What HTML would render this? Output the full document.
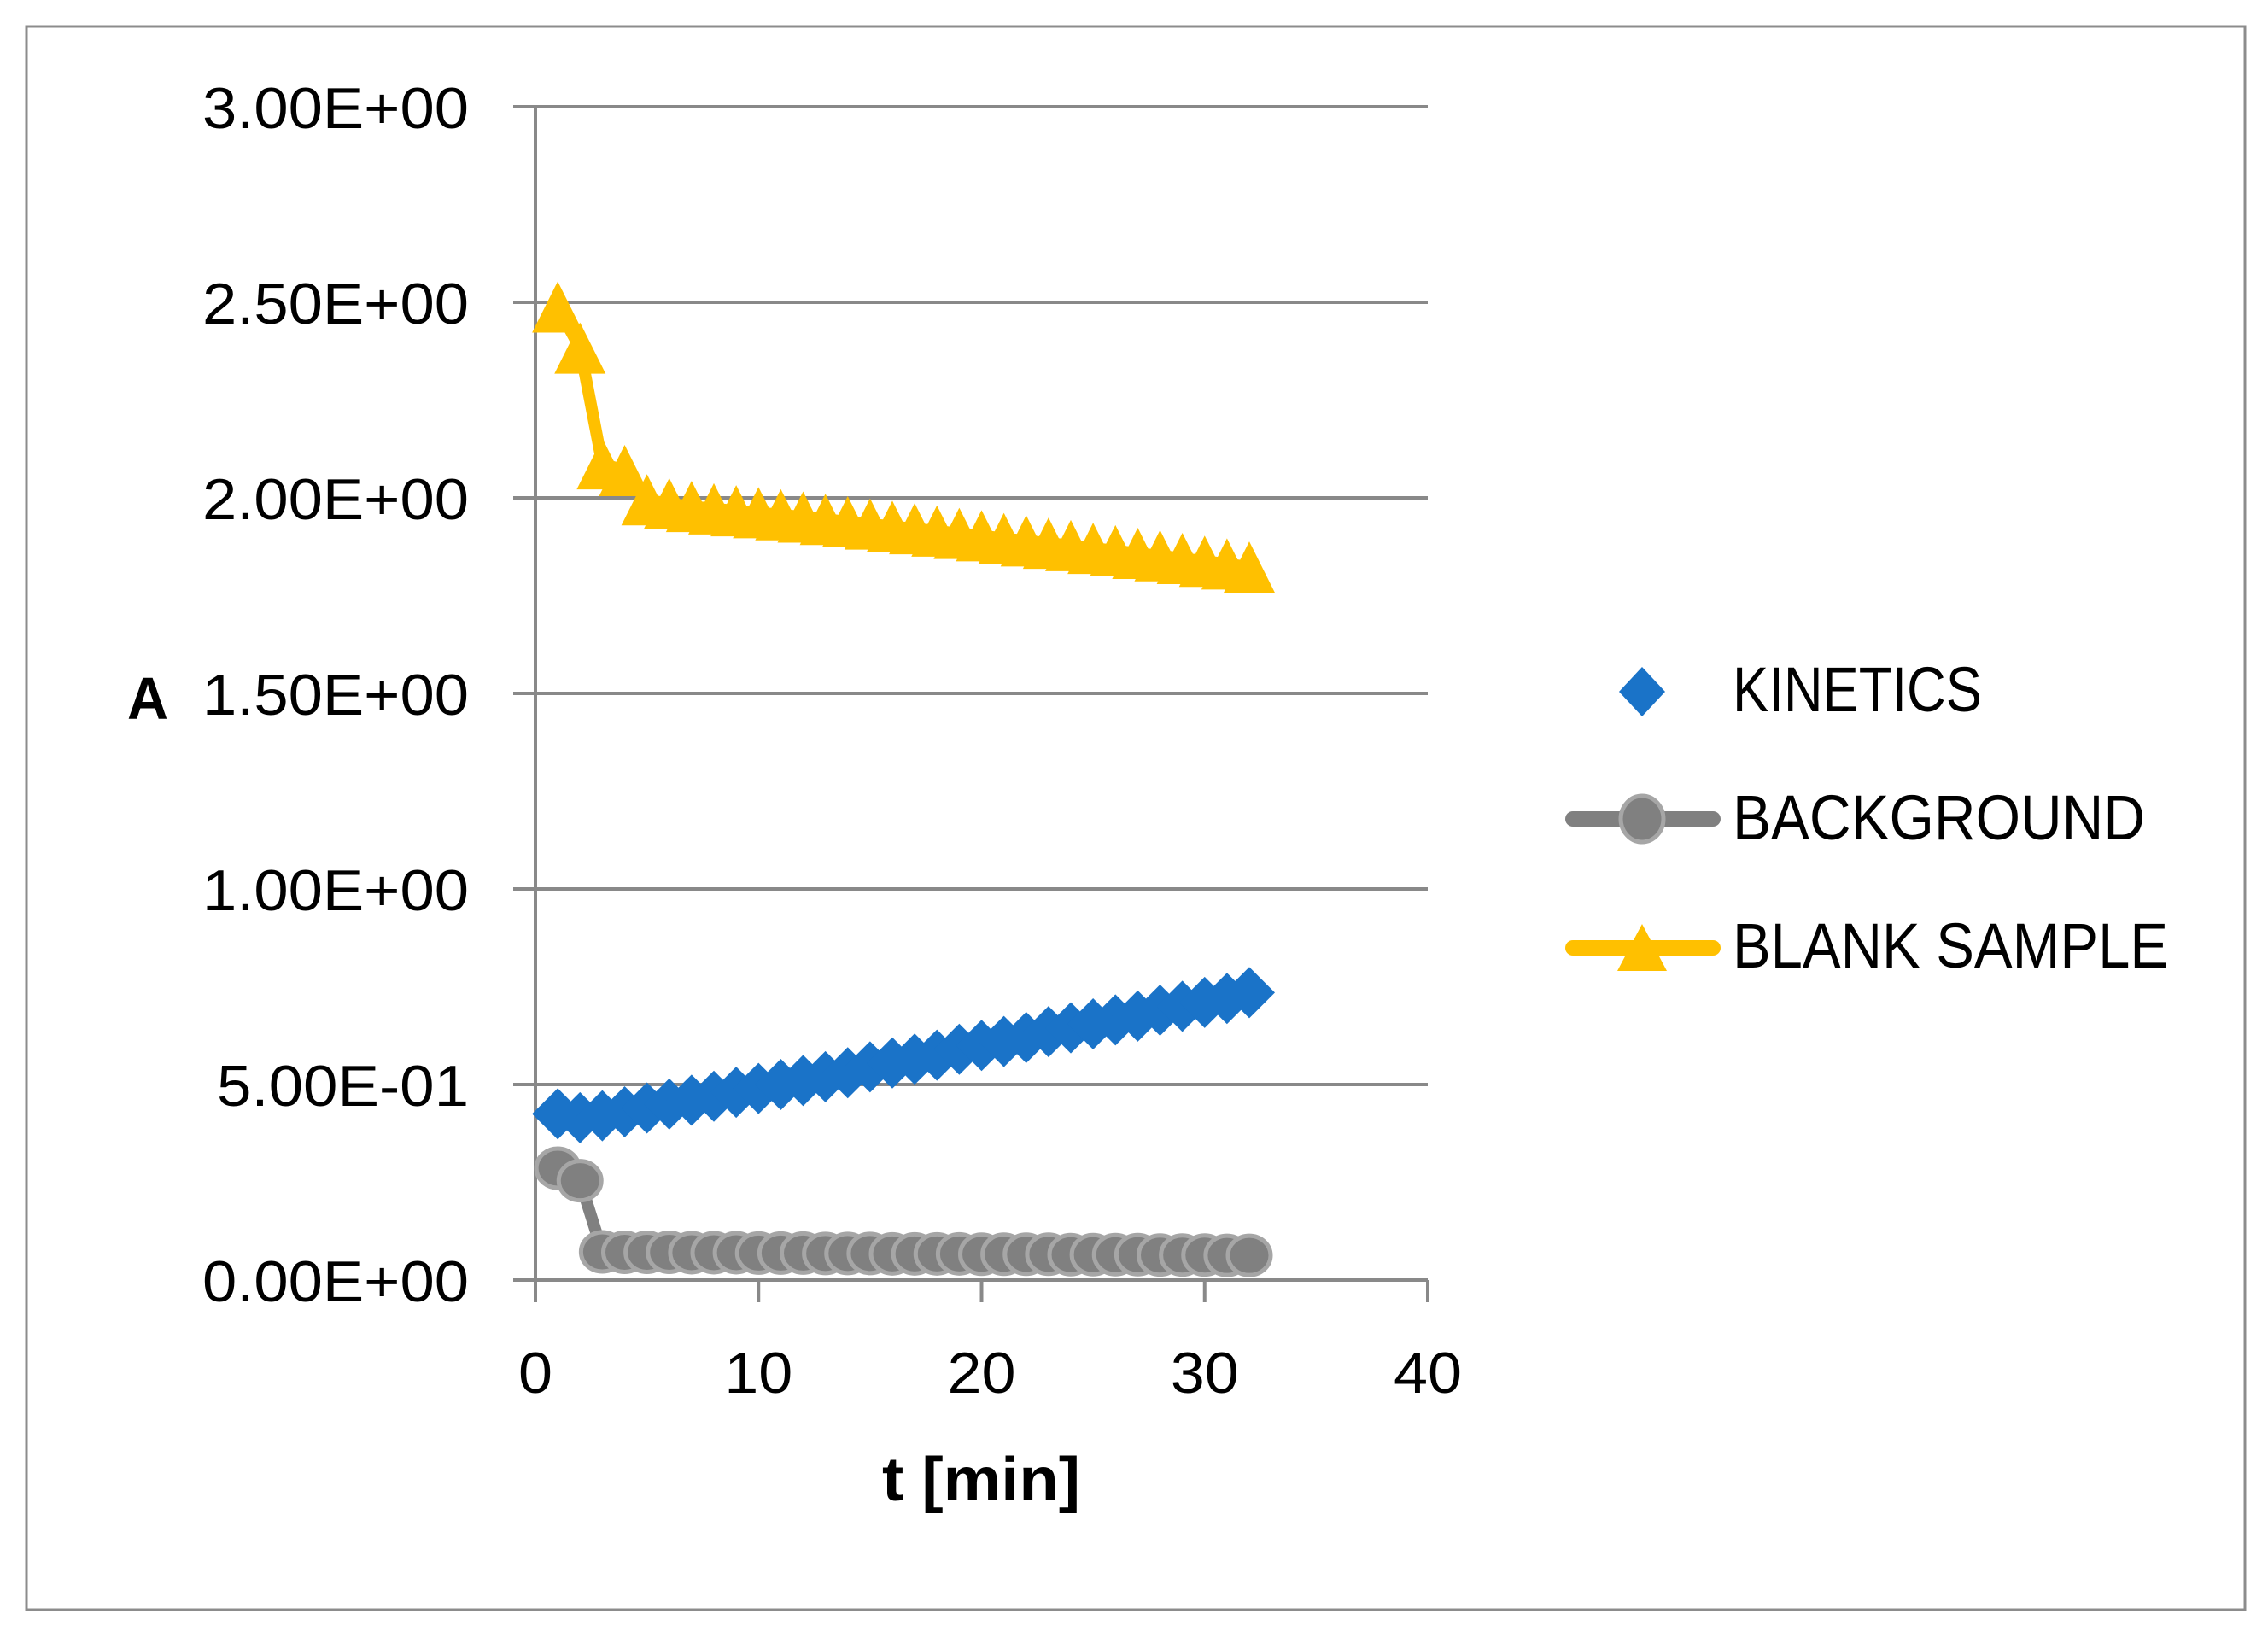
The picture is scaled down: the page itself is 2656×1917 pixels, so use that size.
<!DOCTYPE html>
<html><head><meta charset="utf-8"><style>
html,body{margin:0;padding:0;background:#fff;}
svg{display:block;font-family:"Liberation Sans",sans-serif;}
</style></head><body>
<svg id="chart" width="2656" height="1917" viewBox="0 0 2656 1917">
<rect x="31" y="31" width="2598" height="1854" fill="#fff" stroke="#8c8c8c" stroke-width="3"/>
<g id="grid"></g>
<g id="axes"></g>
<g id="series"></g>
<text x="173" y="842" font-size="70" font-weight="bold" text-anchor="middle" textLength="48" lengthAdjust="spacingAndGlyphs">A</text>
<text x="1149" y="1757" font-size="72" font-weight="bold" text-anchor="middle" textLength="232" lengthAdjust="spacingAndGlyphs">t [min]</text>
<g>
  <g>
    <polygon points="1923,781 1950,810 1923,839 1896,810" fill="#1a73c8"/>
    <text x="2029" y="833" font-size="74" textLength="292" lengthAdjust="spacingAndGlyphs">KINETICS</text>
  </g>
  <g>
    <line x1="1842" y1="959" x2="2006" y2="959" stroke="#808080" stroke-width="18" stroke-linecap="round"/>
    <ellipse cx="1923" cy="959" rx="25" ry="27" fill="#808080" stroke="#a6a6a6" stroke-width="5"/>
    <text x="2029" y="983" font-size="74" textLength="483" lengthAdjust="spacingAndGlyphs">BACKGROUND</text>
  </g>
  <g>
    <line x1="1842" y1="1110" x2="2006" y2="1110" stroke="#ffc000" stroke-width="18" stroke-linecap="round"/>
    <polygon points="1923,1082 1952,1137 1894,1137" fill="#ffc000"/>
    <text x="2029" y="1133" font-size="74" textLength="510" lengthAdjust="spacingAndGlyphs">BLANK SAMPLE</text>
  </g>
</g>
</svg>
<script>
const xTicks = [0, 10, 20, 30, 40];
const yTicks = [0, 0.5, 1, 1.5, 2, 2.5, 3];
const yTickLabels = ["0.00E+00","5.00E-01","1.00E+00","1.50E+00","2.00E+00","2.50E+00","3.00E+00"];
const times = [1,2,3,4,5,6,7,8,9,10,11,12,13,14,15,16,17,18,19,20,21,22,23,24,25,26,27,28,29,30,31,32];
const kinetics = [0.425,0.415,0.42,0.43,0.44,0.45,0.46,0.47,0.48,0.49,0.50,0.51,0.52,0.53,0.545,0.555,0.565,0.575,0.59,0.60,0.61,0.62,0.635,0.645,0.655,0.665,0.675,0.69,0.70,0.71,0.72,0.735];
const background = [0.286,0.254,0.072,0.071,0.071,0.071,0.070,0.070,0.070,0.069,0.069,0.069,0.068,0.068,0.068,0.067,0.067,0.067,0.067,0.066,0.066,0.066,0.066,0.065,0.065,0.065,0.065,0.064,0.064,0.064,0.063,0.063];
const blank = [2.488,2.383,2.087,2.07,1.995,1.985,1.978,1.972,1.967,1.962,1.957,1.951,1.945,1.939,1.933,1.927,1.921,1.915,1.909,1.903,1.896,1.890,1.884,1.878,1.871,1.865,1.858,1.852,1.845,1.838,1.831,1.823];

const NS = "http://www.w3.org/2000/svg";
const X0 = 627, X1 = 1672, Y0 = 1499, Y1 = 125;
const xs = v => X0 + (v - 0) / 40 * (X1 - X0);
const ys = v => Y0 - v / 3 * (Y0 - Y1);
function mk(tag, attrs, parent) {
  const e = document.createElementNS(NS, tag);
  for (const k in attrs) e.setAttribute(k, attrs[k]);
  parent.appendChild(e);
  return e;
}
const grid = document.getElementById('grid');
const axes = document.getElementById('axes');
const series = document.getElementById('series');

yTicks.forEach((v, i) => {
  const l = mk('line', {x1: 601, x2: X1, y1: ys(v), y2: ys(v), stroke: '#898989', 'stroke-width': 4}, grid);
  
  
  const t = mk('text', {x: 549, y: ys(v) + 25, 'font-size': 68, 'text-anchor': 'end', textLength: (yTickLabels[i].indexOf('-') > 0 ? 295 : 312), lengthAdjust: 'spacingAndGlyphs'}, axes);
  t.textContent = yTickLabels[i];
  
  
});
const ya = mk('line', {x1: X0, x2: X0, y1: Y1, y2: 1525, stroke: '#898989', 'stroke-width': 4}, axes);


xTicks.forEach(v => {
  const tk = mk('line', {x1: xs(v), x2: xs(v), y1: Y0, y2: 1525, stroke: '#898989', 'stroke-width': 4}, axes);
  
  
  const s = String(v);
  const t = mk('text', {x: xs(v), y: 1631, 'font-size': 68, 'text-anchor': 'middle', textLength: s.length * 40, lengthAdjust: 'spacingAndGlyphs'}, axes);
  t.textContent = s;
  
  
});

// background series
const bgG = mk('g', {}, series);


const bgLine = mk('polyline', {points: times.map((t, i) => xs(t) + ',' + ys(background[i])).join(' '), fill: 'none', stroke: '#808080', 'stroke-width': 14, 'stroke-linejoin': 'round'}, bgG);


times.forEach((t, i) => {
  const c = mk('ellipse', {cx: xs(t), cy: ys(background[i]), rx: 25, ry: 23, fill: '#808080', stroke: '#a6a6a6', 'stroke-width': 5}, bgG);
  
  
});

// blank sample series
const blG = mk('g', {}, series);


const blLine = mk('polyline', {points: times.map((t, i) => xs(t) + ',' + ys(blank[i])).join(' '), fill: 'none', stroke: '#ffc000', 'stroke-width': 14, 'stroke-linejoin': 'round'}, blG);


times.forEach((t, i) => {
  const x = xs(t), y = ys(blank[i]);
  const p = mk('polygon', {points: `${x},${y-30} ${x+30},${y+30} ${x-30},${y+30}`, fill: '#ffc000'}, blG);
  
  
});

// kinetics series (markers only)
const kG = mk('g', {}, series);


times.forEach((t, i) => {
  const x = xs(t), y = ys(kinetics[i]);
  const p = mk('polygon', {points: `${x},${y-30} ${x+30},${y} ${x},${y+30} ${x-30},${y}`, fill: '#1a73c8'}, kG);
  
  
});
</script>
</body></html>
